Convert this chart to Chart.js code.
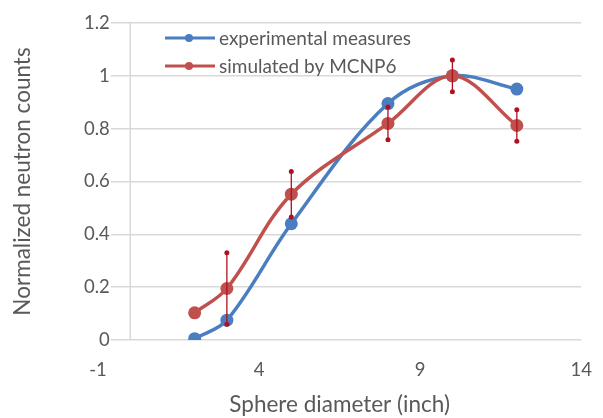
<!DOCTYPE html>
<html>
<head>
<meta charset="utf-8">
<script src="https://cdn.jsdelivr.net/npm/chart.js@4.4.1/dist/chart.umd.min.js"></script>
<style>
  html, body { margin: 0; padding: 0; background: #fff; }
  #wrap { width: 603px; height: 418px; }
</style>
</head>
<body>
<div id="wrap"><canvas id="chart"></canvas></div>
<script>
// values
const sphereDiameter = [2, 3, 5, 8, 10, 12];
const experimental = [0.005, 0.075, 0.44, 0.895, 1.0, 0.95];
const simulated = [0.103, 0.195, 0.552, 0.82, 1.0, 0.812];
const simulatedErr = [0, 0.135, 0.086, 0.062, 0.06, 0.06];
const xTicks = [-1, 4, 9, 14];
const yTicks = [0, 0.2, 0.4, 0.6, 0.8, 1, 1.2];

const BLUE = '#4a7ec0';
const RED = '#c0504d';
const ERR = '#b01020';
const GRID = '#d9d9d9';
const TEXT = '#595959';
const FONT = 'Lato, "DejaVu Sans", sans-serif';

// vertical axis line sits at x = 0
const zeroLine = {
  id: 'zeroLine',
  beforeDatasetsDraw(chart) {
    const {ctx, chartArea, scales} = chart;
    const x = scales.x.getPixelForValue(0);
    ctx.save();
    ctx.strokeStyle = GRID;
    ctx.lineWidth = 1.5;
    ctx.beginPath();
    ctx.moveTo(x, chartArea.top);
    ctx.lineTo(x, chartArea.bottom);
    ctx.stroke();
    ctx.restore();
  }
};

const errorBars = {
  id: 'errorBars',
  afterDatasetsDraw(chart) {
    const {ctx, scales} = chart;
    ctx.save();
    ctx.strokeStyle = ERR;
    ctx.fillStyle = ERR;
    ctx.lineWidth = 1.3;
    sphereDiameter.forEach((d, i) => {
      const e = simulatedErr[i];
      if (!e) return;
      const x = scales.x.getPixelForValue(d);
      const y1 = scales.y.getPixelForValue(simulated[i] + e);
      const y2 = scales.y.getPixelForValue(simulated[i] - e);
      ctx.beginPath();
      ctx.moveTo(x, y1);
      ctx.lineTo(x, y2);
      ctx.stroke();
      [y1, y2].forEach(y => {
        ctx.beginPath();
        ctx.arc(x, y, 2.5, 0, Math.PI * 2);
        ctx.fill();
      });
    });
    ctx.restore();
  }
};

// legend inside the plot, top left
const innerLegend = {
  id: 'innerLegend',
  afterDraw(chart) {
    const {ctx, chartArea} = chart;
    const x0 = chartArea.left + 67;
    const rows = [0, 1];
    ctx.save();
    ctx.font = '19px ' + FONT;
    ctx.textBaseline = 'middle';
    rows.forEach((idx, r) => {
      const ds = chart.data.datasets[idx];
      const y = chartArea.top + 15 + r * 28;
      ctx.strokeStyle = ds.borderColor;
      ctx.lineWidth = 3;
      ctx.beginPath();
      ctx.moveTo(x0, y);
      ctx.lineTo(x0 + 50, y);
      ctx.stroke();
      ctx.fillStyle = ds.borderColor;
      ctx.beginPath();
      ctx.arc(x0 + 24, y, 4, 0, Math.PI * 2);
      ctx.fill();
      ctx.fillStyle = TEXT;
      ctx.fillText(ds.label, x0 + 54, y + 1);
    });
    ctx.restore();
  }
};

new Chart(document.getElementById('chart'), {
  type: 'line',
  data: {
    datasets: [
      {
        label: 'experimental measures',
        data: sphereDiameter.map((x, i) => ({x: x, y: experimental[i]})),
        borderColor: BLUE,
        backgroundColor: BLUE,
        borderWidth: 3.5,
        pointRadius: 6.5,
        pointBorderWidth: 0,
        tension: 0.35,
        order: 1
      },
      {
        label: 'simulated by MCNP6',
        data: sphereDiameter.map((x, i) => ({x: x, y: simulated[i]})),
        borderColor: RED,
        backgroundColor: RED,
        borderWidth: 3.5,
        pointRadius: 6.5,
        pointBorderWidth: 0,
        tension: 0.35,
        order: 0
      }
    ]
  },
  options: {
    responsive: true,
    maintainAspectRatio: false,
    animation: false,
    layout: { padding: { top: 23, right: 13, left: 0, bottom: 0 } },
    plugins: {
      legend: { display: false },
      tooltip: { enabled: false }
    },
    scales: {
      x: {
        type: 'linear',
        min: -1,
        max: 14,
        afterBuildTicks(scale) { scale.ticks = xTicks.map(v => ({value: v})); },
        afterFit(scale) { scale.height = 78; },
        grid: { display: false },
        border: { display: false },
        ticks: { color: TEXT, font: { family: FONT, size: 18.5 }, padding: 11 },
        title: {
          display: true,
          text: 'Sphere diameter (inch)',
          color: TEXT,
          font: { family: FONT, size: 22.5 },
          padding: { top: 0, bottom: 0 }
        }
      },
      y: {
        min: 0,
        max: 1.2,
        afterBuildTicks(scale) { scale.ticks = yTicks.map(v => ({value: v})); },
        afterFit(scale) { scale.width = 98; },
        grid: { color: GRID, lineWidth: 1.5, drawTicks: false },
        border: { display: false },
        ticks: {
          color: TEXT,
          font: { family: FONT, size: 18.5 },
          mirror: true,
          crossAlign: 'far',
          padding: -14,
          callback: v => String(+v.toFixed(1)),
          showLabelBackdrop: true,
          backdropColor: '#fff',
          backdropPadding: 1
        },
        title: {
          display: true,
          text: 'Normalized neutron counts',
          color: TEXT,
          font: { family: FONT, size: 22.5 },
          padding: { top: 9, bottom: 0 }
        }
      }
    }
  },
  plugins: [zeroLine, errorBars, innerLegend]
});
</script>
</body>
</html>
